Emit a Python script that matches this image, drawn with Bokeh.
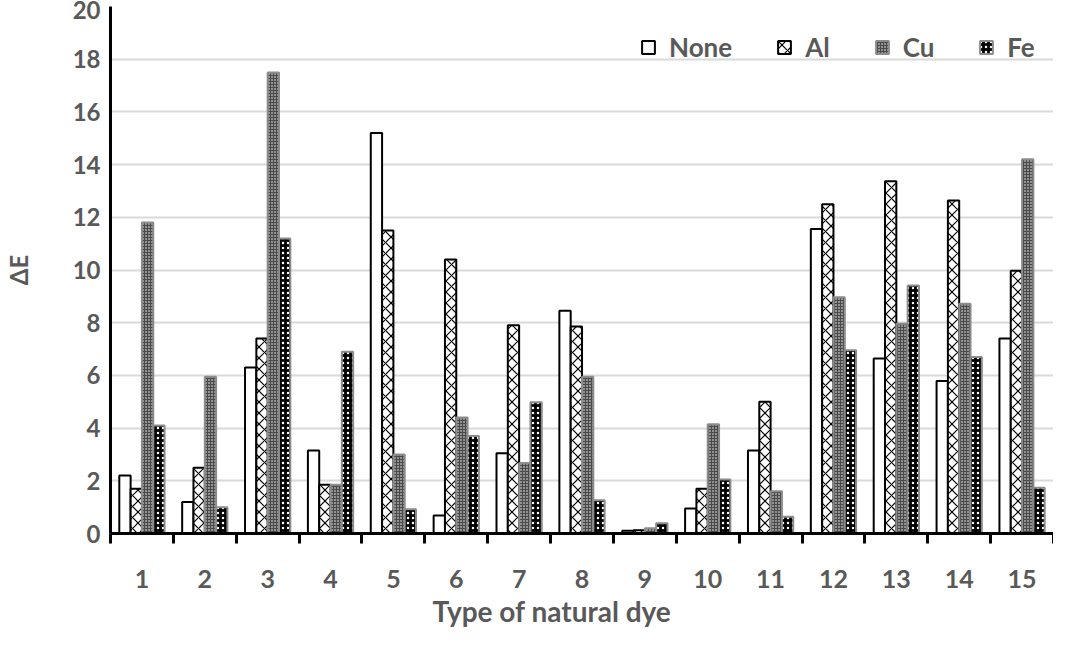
from bokeh.plotting import figure
from bokeh.models import ColumnDataSource, FixedTicker, Legend, LegendItem, Title
from bokeh.transform import dodge
from bokeh.embed import file_html
from bokeh.resources import INLINE

# ---- data ----
dyes = [1, 2, 3, 4, 5, 6, 7, 8, 9, 10, 11, 12, 13, 14, 15]
none_vals = [2.2, 1.2, 6.3, 3.15, 15.2, 0.68, 3.05, 8.45, 0.1, 0.95, 3.15, 11.56, 6.64, 5.79, 7.4]
al_vals = [1.7, 2.5, 7.4, 1.85, 11.5, 10.4, 7.9, 7.86, 0.12, 1.7, 5.0, 12.5, 13.37, 12.64, 9.97]
cu_vals = [11.8, 5.95, 17.5, 1.85, 3.0, 4.4, 2.68, 5.95, 0.2, 4.15, 1.6, 8.97, 7.96, 8.72, 14.2]
fe_vals = [4.1, 1.0, 11.2, 6.9, 0.92, 3.7, 4.98, 1.26, 0.39, 2.05, 0.64, 6.95, 9.41, 6.7, 1.74]
series_names = ["None", "Al", "Cu", "Fe"]
y_ticks = [0, 2, 4, 6, 8, 10, 12, 14, 16, 18, 20]

FONT = "Lato"
GRAY = "#595959"

p = figure(width=1053, height=630, output_backend="svg", toolbar_location=None,
           x_range=(0.5, 15.5), y_range=(0, 20),
           min_border_left=103, min_border_right=0, min_border_top=6, min_border_bottom=97)
p.outline_line_color = None
p.background_fill_color = "white"

src = ColumnDataSource(dict(x=dyes, none=none_vals, al=al_vals, cu=cu_vals, fe=fe_vals))

bw = 0.18
offs = [-0.27, -0.09, 0.09, 0.27]
styles = [
    dict(fill_color="white", line_color="black", line_width=2),
    dict(fill_color="white", line_color="black", line_width=2,
         hatch_pattern="x", hatch_color="black", hatch_scale=11, hatch_weight=1.2),
    dict(fill_color="#4a4a4a", line_color="#8c8c8c", line_width=2,
         hatch_pattern="dot", hatch_color="white", hatch_scale=3, hatch_weight=1.5),
    dict(fill_color="black", line_color="#8c8c8c", line_width=2,
         hatch_pattern="dot", hatch_color="white", hatch_scale=5, hatch_weight=1),
]
cols = ["none", "al", "cu", "fe"]
renderers = []
for col, off, st in zip(cols, offs, styles):
    r = p.vbar(x=dodge("x", off), top=col, width=bw, bottom=0, source=src, **st)
    renderers.append(r)

# axes
xa = p.xaxis[0]
xa.ticker = FixedTicker(ticks=dyes, minor_ticks=[d - 0.5 for d in dyes] + [15.5])
xa.axis_line_width = 3
xa.axis_line_color = "black"
xa.major_tick_line_color = None
xa.major_tick_out = 0
xa.major_tick_in = 0
xa.minor_tick_line_color = "black"
xa.minor_tick_line_width = 3
xa.minor_tick_out = 10
xa.minor_tick_in = 0
xa.major_label_standoff = 26
xa.major_label_text_font = FONT
xa.major_label_text_font_style = "bold"
xa.major_label_text_font_size = "25px"
xa.major_label_text_color = GRAY

ya = p.yaxis[0]
ya.ticker = FixedTicker(ticks=y_ticks)
ya.axis_line_width = 3
ya.axis_line_color = "black"
ya.major_tick_line_color = None
ya.major_tick_out = 0
ya.major_tick_in = 0
ya.minor_tick_line_color = None
ya.major_label_standoff = 10
ya.major_label_text_font = FONT
ya.major_label_text_font_style = "bold"
ya.major_label_text_font_size = "24px"
ya.major_label_text_color = GRAY
ya.axis_label = "ΔE"
ya.axis_label_text_font = FONT
ya.axis_label_text_font_style = "bold"
ya.axis_label_text_font_size = "24px"
ya.axis_label_text_color = GRAY
ya.axis_label_standoff = 37

p.xgrid.grid_line_color = None
p.ygrid.grid_line_color = "#d9d9d9"
p.ygrid.grid_line_width = 2
p.ygrid.ticker = FixedTicker(ticks=y_ticks[1:])

# x-axis title
p.add_layout(Title(text="Type of  natural dye", align="left", offset=322, standoff=3,
                   text_font=FONT, text_font_style="bold", text_font_size="28px",
                   text_color=GRAY), "below")

legend = Legend(items=[LegendItem(label=n, renderers=[r]) for n, r in zip(series_names, renderers)],
                orientation="horizontal", location=(530, 470),
                label_text_font=FONT, label_text_font_style="bold", label_text_font_size="26px",
                label_text_color=GRAY, glyph_width=16, glyph_height=16, label_standoff=13,
                spacing=44, padding=4, border_line_color=None, background_fill_alpha=0.0)
p.add_layout(legend)

open("out.html", "w").write(file_html(p, INLINE))
